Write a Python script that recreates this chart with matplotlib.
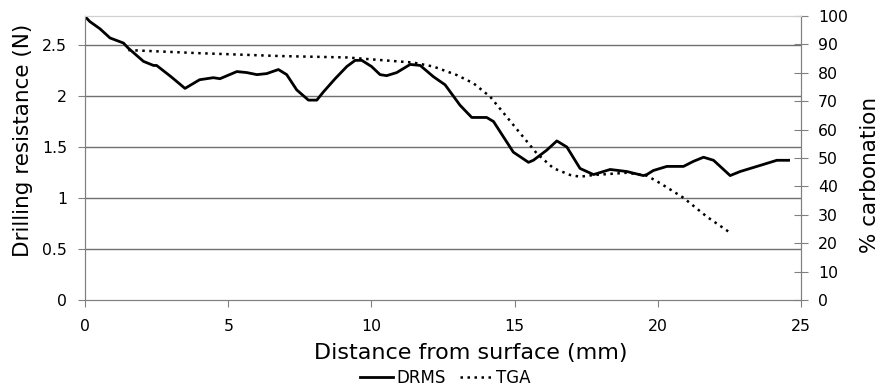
import matplotlib
matplotlib.use('Agg')
import matplotlib.pyplot as plt

# DRMS drilling resistance (N) vs distance from surface (mm)
drms_x = [0.0, 0.17, 0.52, 0.87, 1.34, 1.51, 2.04, 2.39, 2.5, 3.0, 3.49, 4.0, 4.48,
          4.71, 5.3, 5.65, 6.0, 6.34, 6.75, 7.04, 7.39, 7.8, 8.09, 8.32, 8.73, 9.14,
          9.43, 9.66, 10.0, 10.3, 10.53, 10.88, 11.35, 11.7, 12.16, 12.57, 13.09,
          13.5, 14.02, 14.26, 14.95, 15.48, 15.65, 16.12, 16.47, 16.82, 17.28,
          17.75, 18.33, 18.91, 19.49, 19.61, 19.84, 20.31, 20.89, 21.24, 21.59,
          21.94, 22.52, 22.87, 23.57, 24.15, 24.56]
drms_y = [2.78, 2.73, 2.66, 2.57, 2.52, 2.47, 2.34, 2.30, 2.30, 2.19, 2.075, 2.16, 2.18,
          2.17, 2.24, 2.23, 2.21, 2.22, 2.26, 2.21, 2.06, 1.96, 1.96, 2.04, 2.17, 2.29,
          2.35, 2.35, 2.29, 2.21, 2.20, 2.23, 2.31, 2.30, 2.19, 2.11, 1.91,
          1.79, 1.79, 1.75, 1.45, 1.35, 1.37, 1.47, 1.56, 1.50, 1.29,
          1.23, 1.28, 1.26, 1.22, 1.23, 1.27, 1.31, 1.31, 1.36, 1.40,
          1.37, 1.22, 1.26, 1.32, 1.37, 1.37]

# TGA % carbonation vs distance (mm)
tga_x = [1.51, 4.0, 6.8, 9.14, 10.3, 11.46, 12.16, 12.98, 13.56, 14.14, 14.72,
         15.19, 15.77, 16.35, 16.94, 17.28, 17.75, 18.91, 19.61, 20.08, 20.89,
         21.71, 22.46]
tga_y = [88.0, 86.9, 85.9, 85.4, 84.5, 83.6, 82.2, 79.2, 76.3, 71.6, 64.5,
         58.7, 51.6, 46.4, 44.0, 43.4, 44.0, 44.8, 43.8, 41.1, 36.0,
         29.3, 24.1]

plt.rcParams['font.family'] = 'DejaVu Sans'
grey = '#808080'

fig = plt.figure(figsize=(8.82, 3.92), dpi=100)
ax = fig.add_axes([0.0964, 0.2347, 0.812, 0.7245])
ax2 = ax.twinx()

ax.set_ylim(0, 2.785)
ax.set_xlim(0, 25)
ax2.set_ylim(0, 100)
ax.set_yticks([0, 0.5, 1, 1.5, 2, 2.5])
ax.set_yticklabels(['0', '0.5', '1', '1.5', '2', '2.5'])
ax.set_xticks([0, 5, 10, 15, 20, 25])
ax2.set_yticks(range(0, 101, 10))

for y in [0.5, 1, 1.5, 2, 2.5]:
    ax.axhline(y, color='#707070', lw=1.0, zorder=1)

l1, = ax.plot(drms_x, drms_y, color='black', lw=2.0, zorder=3, label='DRMS')
l2, = ax2.plot(tga_x, tga_y, color='black', lw=1.8, linestyle=(0, (1, 1.8)), label='TGA')

for a in (ax, ax2):
    for s in a.spines.values():
        s.set_color(grey)
    a.spines['top'].set_color('#d0d0d0')
ax.tick_params(axis='y', labelsize=11.3, color=grey, length=5, direction='out', pad=8)
ax.tick_params(axis='x', labelsize=11.3, color=grey, length=5, direction='out', pad=8.5)
ax2.tick_params(axis='y', labelsize=11.3, color=grey, length=10, direction='inout', pad=7)

# axis titles, placed where they sit in the original (not centred on the axes)
ax.set_xlabel('Distance from surface (mm)', fontsize=16)
ax.xaxis.label.set_va('center')
ax.xaxis.set_label_coords(0.538, -0.187)
ax.set_ylabel('Drilling resistance (N)', fontsize=15.5)
ax.yaxis.label.set_va('center')
ax.yaxis.set_label_coords(-0.0866, 0.563)
ax2.set_ylabel('% carbonation', fontsize=15.5)
ax2.yaxis.label.set_va('center')
ax2.yaxis.set_label_coords(1.0964, 0.44)

fig.legend(handles=[l1, l2], loc='center', bbox_to_anchor=(0.505, 0.036), ncol=2,
           frameon=False, fontsize=12, handlelength=2.0, handletextpad=0.15,
           columnspacing=0.9)

fig.savefig('out.png', dpi=100)
